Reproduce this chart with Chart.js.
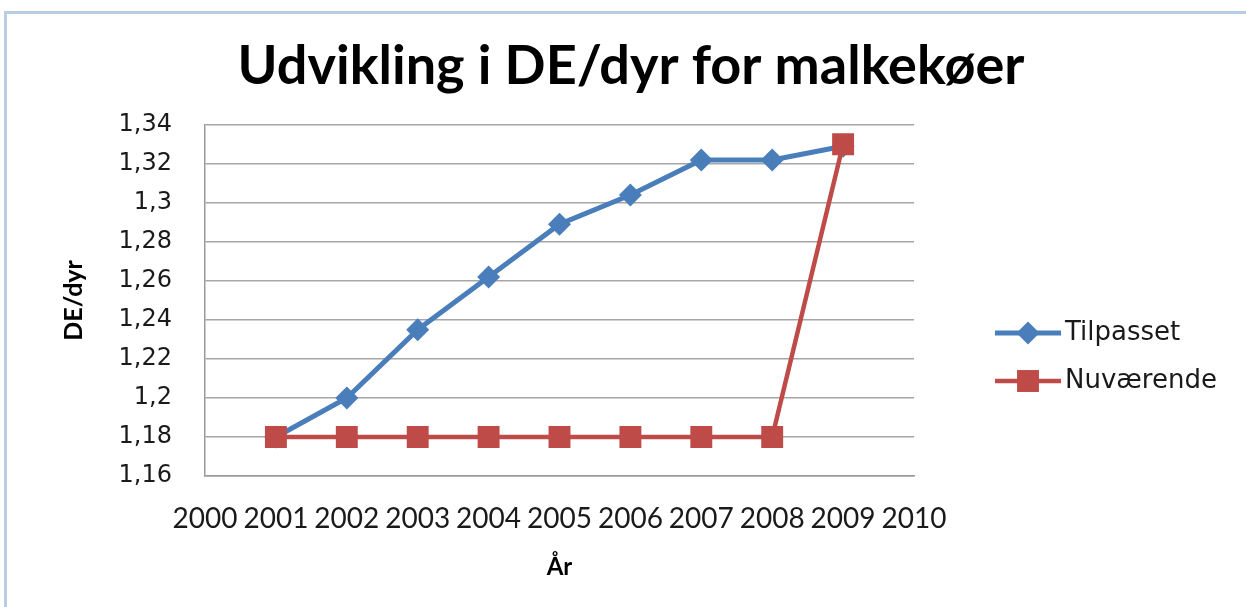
<!DOCTYPE html>
<html>
<head>
<meta charset="utf-8">
<script src="https://cdn.jsdelivr.net/npm/chart.js@4/dist/chart.umd.min.js"></script>
<style>
  html, body { margin: 0; padding: 0; background: #ffffff; }
  #wrap { position: relative; width: 1246px; height: 607px; overflow: hidden; }
  #frame { position: absolute; left: 4px; top: 11px; right: -10px; bottom: -10px;
           border-top: 3px solid #b9cde5; border-left: 3px solid #b9cde5; }
  #c { position: absolute; left: 0; top: 0; }
</style>
</head>
<body>
<div id="wrap">
  <div id="frame"></div>
  <canvas id="c" width="1246" height="607"></canvas>
</div>
<script>
const years = [2001, 2002, 2003, 2004, 2005, 2006, 2007, 2008, 2009];
const tilpasset = [1.18, 1.2, 1.235, 1.262, 1.289, 1.304, 1.322, 1.322, 1.329];
const nuvaerende = [1.18, 1.18, 1.18, 1.18, 1.18, 1.18, 1.18, 1.18, 1.33];
const seriesNames = ['Tilpasset', 'Nuværende'];
const titleText = 'Udvikling i DE/dyr for malkekøer';
const yTitle = 'DE/dyr';
const xTitle = 'År';

const toXY = (xs, ys) => xs.map((x, i) => ({ x: x, y: ys[i] }));

const legendPlugin = {
  id: 'lineLegend',
  afterDraw(chart) {
    const ctx = chart.ctx;
    const rows = [333, 381];
    chart.data.datasets.forEach((ds, i) => {
      const y = rows[i];
      ctx.save();
      ctx.strokeStyle = ds.borderColor;
      ctx.lineWidth = ds.borderWidth;
      ctx.beginPath();
      ctx.moveTo(995, y);
      ctx.lineTo(1061, y);
      ctx.stroke();
      ctx.fillStyle = ds.pointBackgroundColor;
      ctx.strokeStyle = ds.pointBorderColor;
      Chart.helpers.drawPoint(ctx, { pointStyle: ds.pointStyle, rotation: 0, radius: ds.pointRadius, borderWidth: 0 }, 1028, y);
      ctx.fillStyle = '#1a1a1a';
      ctx.font = '26px "DejaVu Sans"';
      ctx.textBaseline = 'middle';
      ctx.textAlign = 'left';
      ctx.fillText(ds.label, 1065, y);
      ctx.restore();
    });
  }
};

new Chart(document.getElementById('c'), {
  type: 'line',
  data: {
    datasets: [
      {
        label: seriesNames[0],
        data: toXY(years, tilpasset),
        borderColor: '#4a7ebb',
        backgroundColor: '#4a7ebb',
        pointBackgroundColor: '#4a7ebb',
        pointBorderColor: '#4a7ebb',
        borderWidth: 5,
        pointStyle: 'rectRot',
        pointRadius: 11.5,
        pointBorderWidth: 0,
        tension: 0,
        order: 1
      },
      {
        label: seriesNames[1],
        data: toXY(years, nuvaerende),
        borderColor: '#be4b48',
        backgroundColor: '#be4b48',
        pointBackgroundColor: '#be4b48',
        pointBorderColor: '#be4b48',
        borderWidth: 4.5,
        pointStyle: 'rect',
        pointRadius: 15.5,
        pointBorderWidth: 0,
        tension: 0,
        order: 0
      }
    ]
  },
  options: {
    responsive: false,
    animation: false,
    events: [],
    layout: { padding: { left: 16, right: 0, top: 0, bottom: 0 } },
    plugins: {
      legend: { display: false },
      tooltip: { enabled: false },
      title: {
        display: true,
        text: titleText,
        color: '#000000',
        font: { family: 'Lato', size: 54, weight: 'bold', lineHeight: 1.2 },
        padding: { top: 34, bottom: 26 }
      }
    },
    scales: {
      x: {
        type: 'linear',
        position: 'bottom',
        min: 2000,
        max: 2010,
        afterFit: (s) => { s.height = 131; },
        grid: { display: false, drawTicks: false },
        border: { display: true, color: '#9a9a9a', width: 1.5 },
        ticks: {
          stepSize: 1,
          autoSkip: false,
          maxRotation: 0,
          padding: 26,
          color: '#1a1a1a',
          font: { family: 'Lato', size: 28 },
          callback: (v) => String(v)
        },
        title: {
          display: true,
          text: xTitle,
          color: '#000000',
          font: { family: 'Lato', size: 24, weight: 'bold' },
          padding: { top: 0, bottom: 25 }
        }
      },
      y: {
        type: 'linear',
        position: 'left',
        min: 1.16,
        max: 1.34,
        afterFit: (s) => { s.width = 189; },
        grid: { color: '#a6a6a6', lineWidth: 1.5, drawTicks: false },
        border: { display: true, color: '#9a9a9a', width: 1.5 },
        ticks: {
          stepSize: 0.02,
          padding: 33,
          color: '#1a1a1a',
          font: { family: 'DejaVu Sans', size: 24 },
          callback: (v) => String(Number(v.toFixed(2))).replace('.', ',')
        },
        title: {
          display: true,
          text: yTitle,
          color: '#000000',
          font: { family: 'Lato', size: 25, weight: 'bold' },
          padding: { top: 43, bottom: 0 }
        }
      },
      yR: {
        type: 'linear',
        position: 'right',
        display: true,
        afterFit: (s) => { s.width = 332; },
        grid: { display: false, drawTicks: false },
        border: { display: false },
        ticks: { display: false }
      }
    }
  },
  plugins: [legendPlugin]
});
</script>
</body>
</html>
